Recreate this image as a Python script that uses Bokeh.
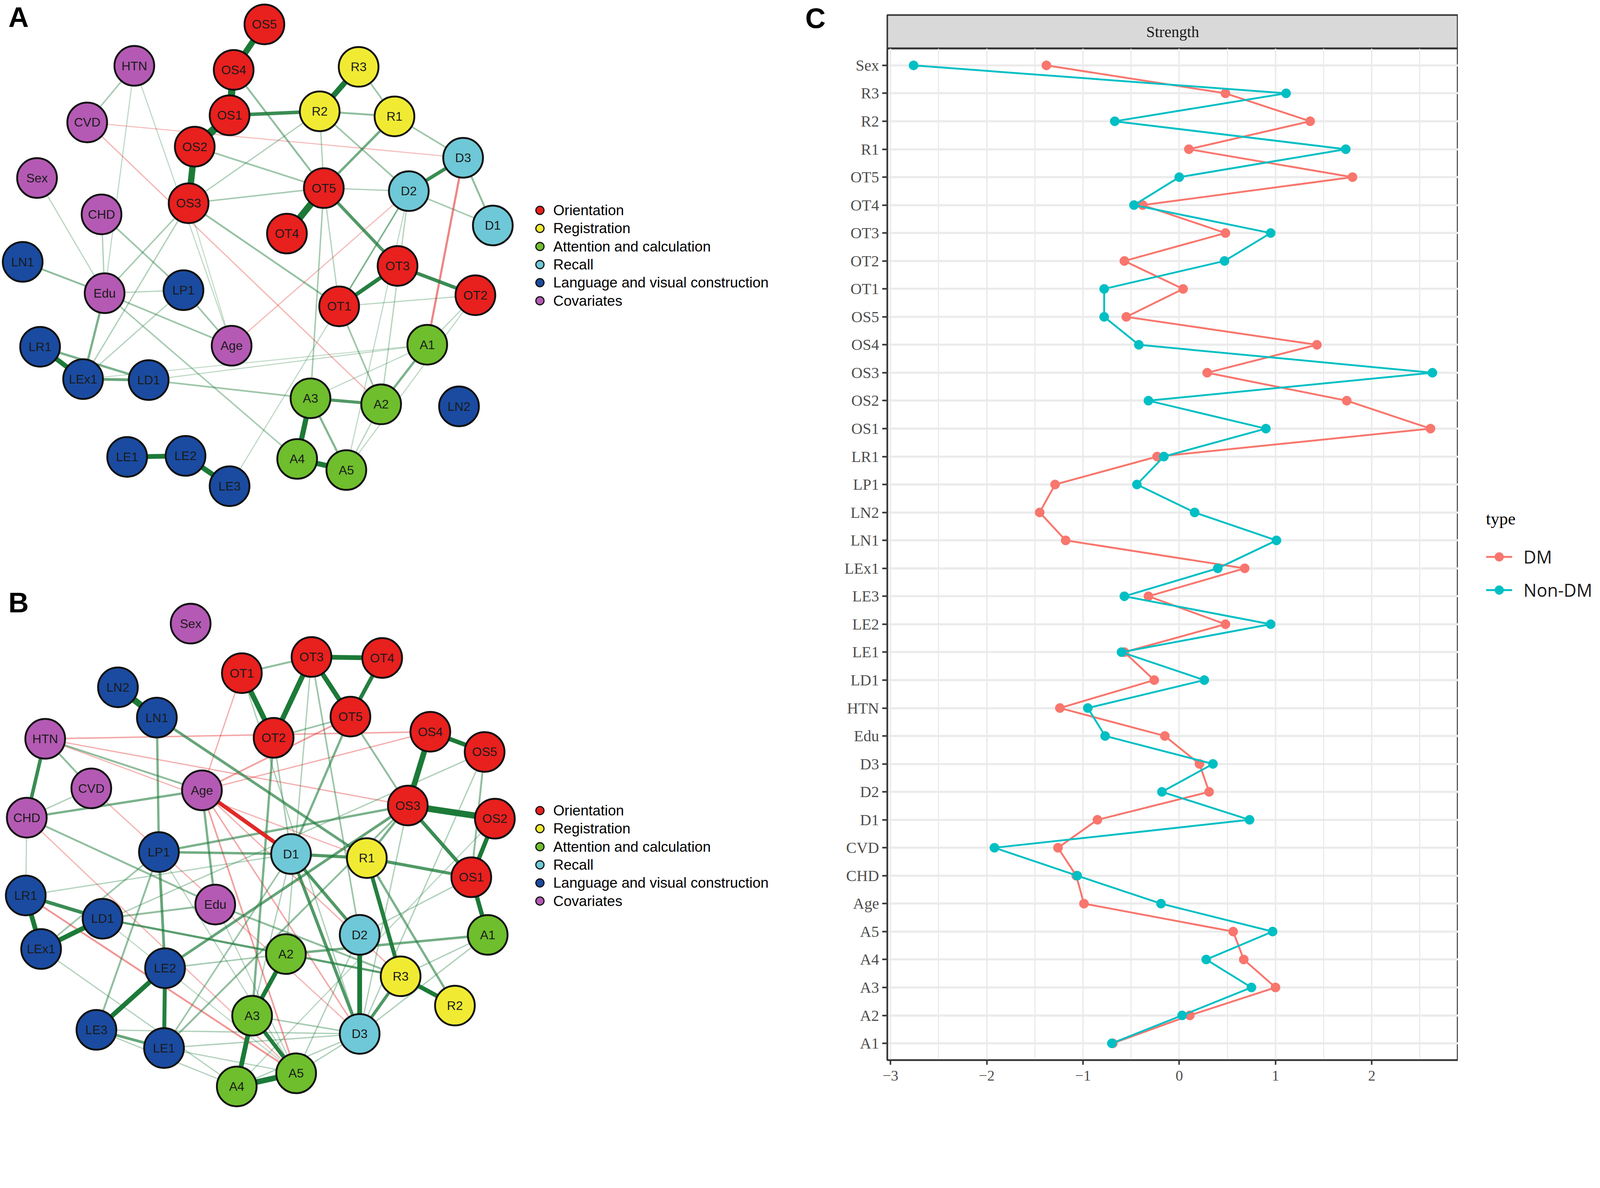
from bokeh.plotting import figure
from bokeh.models import Range1d, FactorRange, ColumnDataSource, Legend, LegendItem, FixedTicker
from bokeh.layouts import row, column
from bokeh.embed import file_html
from bokeh.resources import INLINE
from bokeh.core.properties import value

# ---------------- data: panel C (node strength) ----------------
categories = ["Sex", "R3", "R2", "R1", "OT5", "OT4", "OT3", "OT2", "OT1", "OS5", "OS4", "OS3",
              "OS2", "OS1", "LR1", "LP1", "LN2", "LN1", "LEx1", "LE3", "LE2", "LE1", "LD1", "HTN",
              "Edu", "D3", "D2", "D1", "CVD", "CHD", "Age", "A5", "A4", "A3", "A2", "A1"]
strength_dm = [-1.38, 0.48, 1.36, 0.10, 1.80, -0.38, 0.48, -0.57, 0.04, -0.55, 1.43, 0.29,
               1.74, 2.61, -0.23, -1.29, -1.45, -1.18, 0.68, -0.32, 0.48, -0.57, -0.26, -1.24,
               -0.15, 0.21, 0.31, -0.85, -1.26, -1.07, -0.99, 0.56, 0.67, 1.00, 0.11, -0.69]
strength_nondm = [-2.76, 1.11, -0.67, 1.73, 0.00, -0.47, 0.95, 0.47, -0.78, -0.78, -0.42, 2.63,
                  -0.32, 0.90, -0.16, -0.44, 0.16, 1.01, 0.40, -0.57, 0.95, -0.60, 0.26, -0.95,
                  -0.77, 0.35, -0.18, 0.73, -1.92, -1.06, -0.19, 0.97, 0.28, 0.75, 0.03, -0.70]
x_ticks = [-3, -2, -1, 0, 1, 2]
x_tick_labels = ["\u22123", "\u22122", "\u22121", "0", "1", "2"]
series_names = ["DM", "Non-DM"]
series_colors = ["#F8766D", "#00BFC4"]

# ---------------- data: network layouts (layout units) ----------------
A_names = ["OS5", "HTN", "OS4", "R3", "OS1", "R2", "R1", "CVD", "OS2", "D3", "Sex", "OS3", "OT5",
           "D2", "CHD", "D1", "OT4", "LN1", "OT3", "Edu", "LP1", "OT2", "OT1", "Age", "A1", "LR1",
           "LEx1", "LD1", "A3", "A2", "LN2", "LE1", "LE2", "LE3", "A4", "A5"]
A_x = [261, 134, 231, 353, 227, 315, 388, 88, 193, 455, 39, 187, 319, 402, 102, 484, 283, 25, 391,
       105, 182, 467, 334, 229, 420, 42, 84, 148, 306, 375, 451, 127, 184, 227, 293, 341]
A_y = [27, 68, 72, 69, 117, 113, 118, 124, 148, 159, 179, 204, 189, 192, 215, 226, 234, 262, 266,
       293, 290, 295, 306, 345, 344, 346, 378, 379, 397, 403, 405, 455, 454, 484, 457, 468]

B_names = ["Sex", "OT1", "OT3", "OT4", "LN2", "LN1", "OT2", "OT5", "OS4", "OS5", "HTN", "CVD",
           "Age", "CHD", "OS3", "OS2", "LP1", "D1", "R1", "OS1", "Edu", "LR1", "LD1", "LEx1", "D2",
           "A1", "A2", "LE2", "R3", "R2", "LE3", "A3", "D3", "LE1", "A5", "A4"]
B_x = [189, 239, 307, 376, 118, 156, 270, 345, 423, 476, 47, 92, 200, 29, 401, 486, 158, 287, 361,
       463, 213, 28, 103, 43, 354, 479, 282, 164, 394, 447, 97, 249, 354, 163, 292, 234]
B_y = [620, 669, 653, 654, 683, 713, 733, 712, 727, 747, 734, 783, 785, 812, 800, 813, 846, 848,
       852, 871, 898, 889, 912, 942, 928, 928, 947, 961, 969, 998, 1022, 1008, 1026, 1040, 1065, 1078]

A_edges = [
    ("OS5", "OS4", 0.65), ("OS4", "OS1", 0.8), ("OS1", "OS2", 0.9), ("OS2", "OS3", 0.7),
    ("R3", "R2", 0.6), ("OT5", "OT4", 0.75), ("LE1", "LE2", 0.5), ("LE2", "LE3", 0.55),
    ("A3", "A4", 0.55), ("A4", "A5", 0.55), ("LR1", "LEx1", 0.5),
    ("OS1", "R2", 0.35), ("OT3", "OT1", 0.4), ("OT3", "OT2", 0.35), ("OT5", "OT3", 0.3),
    ("D3", "D2", 0.35), ("A3", "A2", 0.3), ("A1", "A2", 0.2), ("R1", "OT5", 0.22),
    ("LEx1", "LD1", 0.25), ("LR1", "LD1", 0.2),
    ("R3", "R1", 0.12), ("R2", "R1", 0.15), ("R1", "D3", 0.12), ("R2", "D2", 0.12),
    ("R2", "OT5", 0.08), ("OS4", "OT5", 0.15), ("OS2", "OT5", 0.12), ("OS3", "OT5", 0.1),
    ("OS3", "R2", 0.08), ("OS3", "OT1", 0.14), ("OT5", "D2", 0.08), ("D2", "D1", 0.1),
    ("D3", "D1", 0.15), ("D3", "A1", -0.18), ("D2", "OT1", 0.12), ("D2", "Age", -0.06),
    ("OT1", "A2", 0.12), ("OT5", "OT1", 0.07), ("OT5", "A3", 0.1), ("OT1", "OT2", 0.06),
    ("A1", "OT2", 0.06), ("A1", "A3", 0.05), ("LD1", "A3", 0.12), ("LD1", "A1", 0.05),
    ("Edu", "LN1", 0.15), ("Edu", "LP1", 0.07), ("Edu", "LEx1", 0.2), ("Edu", "Age", 0.12),
    ("Edu", "A4", 0.1), ("Edu", "Sex", 0.06), ("Edu", "CHD", 0.08), ("Edu", "OS3", 0.1),
    ("CHD", "LP1", 0.12), ("HTN", "CVD", 0.1), ("HTN", "Edu", 0.05), ("HTN", "Age", 0.05),
    ("CVD", "D3", -0.05), ("CVD", "A2", -0.07), ("LP1", "Age", 0.12), ("LP1", "LEx1", 0.07),
    ("OS3", "LEx1", 0.08), ("A5", "A3", 0.18), ("A5", "A2", 0.07), ("LE3", "D2", 0.05),
    ("OS3", "Age", 0.04), ("A2", "D2", 0.07), ("A5", "OT2", 0.05), ("LEx1", "A1", 0.04),
    ("D2", "A5", 0.05),
]

B_edges = [
    ("LN2", "LN1", 0.7), ("OT1", "OT2", 0.55), ("OT2", "OT3", 0.55), ("OT3", "OT4", 0.5),
    ("OT3", "OT5", 0.5), ("OT4", "OT5", 0.4), ("OS4", "OS5", 0.45), ("OS4", "OS3", 0.6),
    ("OS3", "OS2", 0.7), ("OS2", "OS1", 0.45), ("OS3", "OS1", 0.35), ("OS1", "A1", 0.45),
    ("LR1", "LEx1", 0.5), ("LEx1", "LD1", 0.5), ("LR1", "LD1", 0.35), ("LE2", "LE3", 0.5),
    ("LE2", "LE1", 0.4), ("LE3", "LE1", 0.25), ("A2", "A3", 0.45), ("A3", "A4", 0.5),
    ("A4", "A5", 0.6), ("A3", "A5", 0.4), ("D2", "D3", 0.5), ("R3", "R2", 0.45),
    ("R3", "D3", 0.3), ("R1", "R3", 0.4), ("HTN", "CHD", 0.35), ("D1", "R1", 0.3),
    ("R1", "OS1", 0.3), ("D1", "D2", 0.3), ("D1", "D3", 0.3), ("LN1", "R1", 0.25),
    ("Age", "D1", -0.4), ("LP1", "LE2", 0.25), ("LP1", "D1", 0.22), ("LP1", "OS3", 0.2),
    ("OT2", "A3", 0.2), ("OT5", "D1", 0.2), ("R1", "R2", 0.2), ("R1", "OS3", 0.2),
    ("A2", "A1", 0.22), ("A2", "R3", 0.2), ("LD1", "A2", 0.2), ("LE2", "OS3", 0.25),
    ("LE1", "OS3", 0.15), ("Edu", "R3", 0.15), ("HTN", "Age", 0.15), ("HTN", "CVD", 0.15),
    ("CHD", "Age", 0.2), ("CHD", "CVD", 0.08), ("CHD", "LR1", 0.06), ("CHD", "Edu", 0.15),
    ("LN1", "LP1", 0.2), ("Age", "Edu", 0.2), ("LP1", "LE3", 0.15), ("LP1", "LEx1", 0.12),
    ("LD1", "Edu", 0.15), ("OT1", "OT3", 0.15), ("OT3", "D2", 0.12), ("OT5", "OS3", 0.15),
    ("OT2", "OT5", 0.12), ("OS5", "OS1", 0.15), ("OT2", "D1", 0.1),
    ("HTN", "OS4", -0.1), ("HTN", "OS3", -0.08), ("HTN", "R1", -0.07), ("Age", "OT5", -0.12),
    ("Age", "OT1", -0.08), ("Age", "OS4", -0.08), ("Age", "A5", -0.12), ("Age", "D3", -0.1),
    ("LR1", "A5", -0.14), ("CVD", "D3", -0.07), ("Age", "R3", -0.08), ("CHD", "A5", -0.07),
    ("LEx1", "A4", 0.07), ("LE1", "A5", 0.07), ("LE3", "A4", 0.07), ("LD1", "A5", 0.05),
    ("D3", "A4", 0.08), ("D3", "A5", 0.08), ("OS3", "D3", 0.08), ("OS5", "D3", 0.08),
    ("OS2", "A4", 0.06), ("LR1", "D1", 0.07), ("LEx1", "OS5", 0.08), ("LE3", "D3", 0.08),
    ("LE1", "D3", 0.08), ("A5", "D2", 0.08), ("A3", "D3", 0.1), ("OS1", "D2", 0.08),
    ("A1", "D3", 0.08), ("R3", "A1", 0.08), ("OT1", "D3", 0.08), ("OT3", "A2", 0.08),
    ("LP1", "A5", 0.06), ("Edu", "A5", 0.06), ("LE2", "A2", 0.1), ("LD1", "R3", 0.1),
    ("D1", "LE1", 0.12), ("A3", "D1", 0.08),
]

group_labels = ["Orientation", "Registration", "Attention and calculation", "Recall",
                "Language and visual construction", "Covariates"]
group_colors = ["#E8201E", "#F0EB32", "#6EBE2D", "#6EC8D7", "#1A4BA0", "#B45AB4"]

# ---------------- layout constants ----------------
# The page is photographed at a device scale of about 1.05, so every size is
# written in reference pixels and divided by Z to get CSS pixels.
Z = 1.05
S = 4317 / 1568.0          # layout unit -> reference pixel


def px(v):
    return int(round(v / Z))


def fs(v):
    return "%dpx" % px(v)


NET_W = px(2240)                      # networks A and B
TOTAL_H = px(3026)
FRAME_L = px(2393) - (8 + NET_W)      # left border of panel C
FRAME_W = px(3927) - px(2393)
STRIP_TOP = px(48) - 8
STRIP_H = px(139) - px(48)
C_FRAME_H = px(2858) - px(139)
C_BOTTOM = (8 + TOTAL_H) - px(2858)
LEG_W = (px(4317) - 8) - px(3927) - 2


def group_of(name):
    if name.startswith("OT") or name.startswith("OS"):
        return 0
    if name.startswith("R"):
        return 1
    if name.startswith("A") and name != "Age":
        return 2
    if name.startswith("D"):
        return 3
    if name.startswith("L"):
        return 4
    return 5


x0_ref = 8 * Z
pAB = figure(width=NET_W, height=TOTAL_H,
             x_range=Range1d(x0_ref / S, (x0_ref + NET_W * Z) / S),
             y_range=Range1d((x0_ref + TOTAL_H * Z) / S, x0_ref / S), x_axis_location=None,
             y_axis_location=None, toolbar_location=None, output_backend="svg",
             min_border=0, outline_line_color=None)
pAB.grid.visible = False


def draw_network(p, names, xs_, ys_, edges):
    pos = {n: (x, y) for n, x, y in zip(names, xs_, ys_)}
    edges_sorted = sorted(edges, key=lambda e: abs(e[2]))
    exs, eys, ew, ec, ea = [], [], [], [], []
    for a, b, w in edges_sorted:
        exs.append([pos[a][0], pos[b][0]])
        eys.append([pos[a][1], pos[b][1]])
        aw = abs(w)
        ew.append((1.8 + aw * 22) / Z)
        ec.append("#1C7A38" if w > 0 else "#E0201E")
        ea.append(min(1.0, 0.2 + aw * 1.9))
    p.multi_line("xs", "ys", line_width="w", line_color="c", line_alpha="a",
                 source=ColumnDataSource(dict(xs=exs, ys=eys, w=ew, c=ec, a=ea)))
    cols = [group_colors[group_of(n)] for n in names]
    p.circle("x", "y", radius=19.4, fill_color="c", line_color="#111111", line_width=5 / Z,
             source=ColumnDataSource(dict(x=xs_, y=ys_, c=cols)))
    p.text("x", "y", text="t", text_align="center", text_baseline="middle",
           text_font=value("Liberation Sans"), text_font_size=fs(34), text_color="#1a1a1a",
           source=ColumnDataSource(dict(x=xs_, y=ys_, t=names)))


def draw_group_legend(p, x0, y0, step):
    ys_ = [y0 + i * step for i in range(len(group_labels))]
    p.scatter([x0] * len(ys_), ys_, size=22 / Z, fill_color=group_colors, line_color="#111111",
              line_width=3 / Z)
    p.text([x0 + 13] * len(ys_), ys_, text=group_labels, text_align="left",
           text_baseline="middle", text_font=value("Liberation Sans"), text_font_size=fs(39),
           text_color="#000000")


draw_network(pAB, A_names, A_x, A_y, A_edges)
draw_network(pAB, B_names, B_x, B_y, B_edges)
draw_group_legend(pAB, 530, 211, 17.9)
draw_group_legend(pAB, 530, 805, 17.9)
pAB.text([21, 21, 799], [20, 599, 21], text=["A", "B", "C"], text_align="center",
         text_baseline="middle", text_font=value("Liberation Sans"), text_font_style="bold",
         text_font_size=fs(76), text_color="#000000")

# ---------------- panel C ----------------
pS = figure(frame_width=FRAME_W, frame_height=STRIP_H, x_range=Range1d(0, 1),
            y_range=Range1d(0, 1), x_axis_location=None, y_axis_location=None,
            toolbar_location=None, output_backend="svg", min_border_left=FRAME_L,
            min_border_right=0, min_border_top=STRIP_TOP, min_border_bottom=0,
            background_fill_color="#D9D9D9", outline_line_color="#333333",
            outline_line_width=4 / Z)
pS.grid.visible = False
pS.text([0.5], [0.5], text=["Strength"], text_align="center", text_baseline="middle",
        text_font=value("Liberation Serif"), text_font_size=fs(42), text_color="#1A1A1A")

factors = list(reversed(categories))
pC = figure(frame_width=FRAME_W, frame_height=C_FRAME_H,
            x_range=Range1d(-3.033, 2.896),
            y_range=FactorRange(factors=factors, range_padding=0.1,
                                range_padding_units="absolute"),
            toolbar_location=None, output_backend="svg",
            min_border_left=FRAME_L, min_border_right=0, min_border_top=0,
            min_border_bottom=C_BOTTOM, outline_line_color="#333333", outline_line_width=4 / Z)

src = ColumnDataSource(dict(cat=categories, dm=strength_dm, nondm=strength_nondm))
pC.line("dm", "cat", source=src, line_color=series_colors[0], line_width=5 / Z)
pC.scatter("dm", "cat", source=src, size=25 / Z, fill_color=series_colors[0],
           line_color=series_colors[0])
pC.line("nondm", "cat", source=src, line_color=series_colors[1], line_width=5 / Z)
pC.scatter("nondm", "cat", source=src, size=25 / Z, fill_color=series_colors[1],
           line_color=series_colors[1])

pC.xaxis.ticker = FixedTicker(ticks=x_ticks, minor_ticks=[-2.5, -1.5, -0.5, 0.5, 1.5, 2.5])
pC.xaxis.major_label_overrides = {t: lab for t, lab in zip(x_ticks, x_tick_labels)}
for ax in (pC.xaxis, pC.yaxis):
    ax.axis_line_color = "#333333"
    ax.axis_line_width = 4 / Z
    ax.major_tick_line_color = "#333333"
    ax.major_tick_line_width = 4 / Z
    ax.major_tick_in = 0
    ax.minor_tick_line_color = None
    ax.major_label_text_font = "Liberation Serif"
    ax.major_label_text_color = "#4D4D4D"
pC.xaxis.major_tick_out = px(13)
pC.xaxis.major_label_standoff = px(16)
pC.xaxis.major_label_text_font_size = fs(40)
pC.yaxis.major_tick_out = px(14)
pC.yaxis.major_label_standoff = px(8)
pC.yaxis.major_label_text_font_size = fs(42)

pC.xgrid.grid_line_color = "#EBEBEB"
pC.xgrid.grid_line_width = 4 / Z
pC.xgrid.minor_grid_line_color = "#EBEBEB"
pC.xgrid.minor_grid_line_width = 3 / Z
pC.ygrid.grid_line_color = "#EBEBEB"
pC.ygrid.grid_line_width = 6 / Z

# ---------------- legend of panel C (its own narrow figure at the right) ----------------
leg_center = px(1501)
pL = figure(width=LEG_W, height=TOTAL_H, x_range=Range1d(0, 1), y_range=Range1d(0, 1),
            x_axis_location=None, y_axis_location=None, toolbar_location=None,
            output_backend="svg", min_border_left=0, min_border_right=0, min_border_top=0,
            min_border_bottom=(8 + TOTAL_H) - (2 * leg_center - 8), outline_line_color=None)
pL.grid.visible = False
nan = float("nan")
items = []
for name, colr in zip(series_names, series_colors):
    lr = pL.line([nan, nan], [nan, nan], line_color=colr, line_width=5 / Z)
    sr = pL.scatter([nan], [nan], size=25 / Z, fill_color=colr, line_color=colr)
    items.append(LegendItem(label=name, renderers=[lr, sr]))

legend = Legend(items=items, title="type", location="center_left", margin=px(76),
                padding=px(9), border_line_color=None, background_fill_alpha=0,
                glyph_width=px(70), glyph_height=px(60), label_height=px(60),
                spacing=px(25), label_standoff=px(30), title_standoff=px(43))
legend.title_text_font = "Liberation Serif"
legend.title_text_font_size = fs(46)
legend.title_text_font_style = "normal"
legend.title_text_color = "#000000"
legend.label_text_font = "Open Sans"
legend.label_text_font_size = fs(47)
legend.label_text_color = "#1A1A1A"
pL.add_layout(legend, "center")

layout = row(pAB, column(pS, pC), pL)
open("out.html", "w").write(file_html(layout, INLINE))
